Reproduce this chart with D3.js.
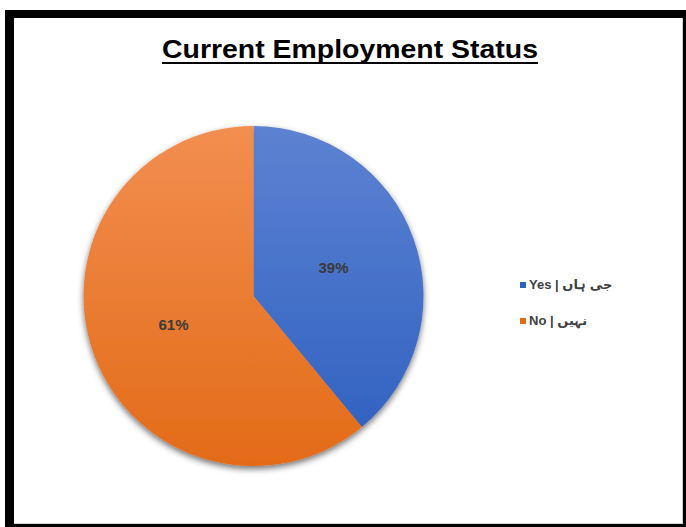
<!DOCTYPE html>
<html>
<head>
<meta charset="utf-8">
<script src="https://cdn.jsdelivr.net/npm/d3@7"></script>
<style>
  html, body { margin: 0; padding: 0; background: #ffffff; }
  svg { display: block; }
</style>
</head>
<body>
<svg id="chart" width="686" height="527"></svg>
<script>
// Employment status shares (percent)
const categories = ["Yes | جی ہاں", "No | نہیں"];
const values = [39, 61];
const titleText = "Current Employment Status";

const W = 686, H = 527;
const svg = d3.select("#chart");

// Black frame with a white panel inside
svg.append("rect").attr("x", 5).attr("y", 10).attr("width", W).attr("height", H).attr("fill", "#000");
svg.append("rect").attr("x", 14).attr("y", 18).attr("width", 668).attr("height", 505).attr("fill", "#fff");
svg.append("line").attr("x1", 682.5).attr("x2", 682.5).attr("y1", 18).attr("y2", 524)
  .attr("stroke", "#cfcfcf").attr("stroke-width", 1);
svg.append("line").attr("x1", 14).attr("x2", 683).attr("y1", 523.5).attr("y2", 523.5)
  .attr("stroke", "#cfcfcf").attr("stroke-width", 1);

// Title, bold and underlined
svg.append("text")
  .attr("x", 162).attr("y", 58)
  .attr("font-family", "'Liberation Sans', Arial, sans-serif")
  .attr("font-weight", "bold")
  .attr("font-size", 26)
  .attr("fill", "#000")
  .attr("textLength", 376)
  .attr("lengthAdjust", "spacingAndGlyphs")
  .text(titleText);
svg.append("rect").attr("x", 162).attr("y", 62).attr("width", 376).attr("height", 2).attr("fill", "#000");

// Pie geometry
const cx = 253.5, cy = 296, r = 170;
const colorStops = [
  { top: "#5d82d2", bottom: "#2d5fbf" },
  { top: "#f28e50", bottom: "#e36b18" }
];

const defs = svg.append("defs");
// Vertical gradients in the pie group's own coordinates (centre at 0,0)
colorStops.forEach((c, i) => {
  const grad = defs.append("linearGradient")
    .attr("id", "grad" + i)
    .attr("gradientUnits", "userSpaceOnUse")
    .attr("x1", 0).attr("y1", -r).attr("x2", 0).attr("y2", r);
  grad.append("stop").attr("offset", "0%").attr("stop-color", c.top);
  grad.append("stop").attr("offset", "100%").attr("stop-color", c.bottom);
});

const shadow = defs.append("filter").attr("id", "shadow")
  .attr("x", "-20%").attr("y", "-20%").attr("width", "140%").attr("height", "140%");
shadow.append("feDropShadow")
  .attr("dx", 0).attr("dy", 3).attr("stdDeviation", 3)
  .attr("flood-color", "#000").attr("flood-opacity", 0.55);

const pie = d3.pie().sort(null).value(d => d)(values);
const arc = d3.arc().innerRadius(0).outerRadius(r);

const g = svg.append("g").attr("transform", `translate(${cx},${cy})`);
g.append("g").attr("filter", "url(#shadow)")
  .selectAll("path")
  .data(pie)
  .join("path")
  .attr("d", arc)
  .attr("fill", (d, i) => `url(#grad${i})`);

// Percentage labels at half radius
g.selectAll("text.lbl")
  .data(pie)
  .join("text")
  .attr("class", "lbl")
  .attr("transform", d => `translate(${arc.centroid(d)})`)
  .attr("text-anchor", "middle")
  .attr("dy", "0.36em")
  .attr("font-family", "'Liberation Sans', Arial, sans-serif")
  .attr("font-size", 15)
  .attr("font-weight", "bold")
  .attr("fill", "#3a3a3a")
  .text(d => Math.round(d.data) + "%");

// Legend
const legend = svg.append("g").attr("transform", "translate(520,282)");
const rows = legend.selectAll("g")
  .data(categories)
  .join("g")
  .attr("transform", (d, i) => `translate(0,${i * 36})`);
rows.append("rect")
  .attr("x", 0).attr("y", 0).attr("width", 6).attr("height", 6)
  .attr("fill", (d, i) => colorStops[i].bottom);
rows.append("text")
  .attr("x", 9).attr("y", 7)
  .attr("font-family", "'Liberation Sans', 'DejaVu Sans', Arial, sans-serif")
  .attr("font-size", 13)
  .attr("font-weight", "bold")
  .attr("fill", "#404040")
  .attr("direction", "ltr")
  .attr("unicode-bidi", "embed")
  .text(d => d);
</script>
</body>
</html>
